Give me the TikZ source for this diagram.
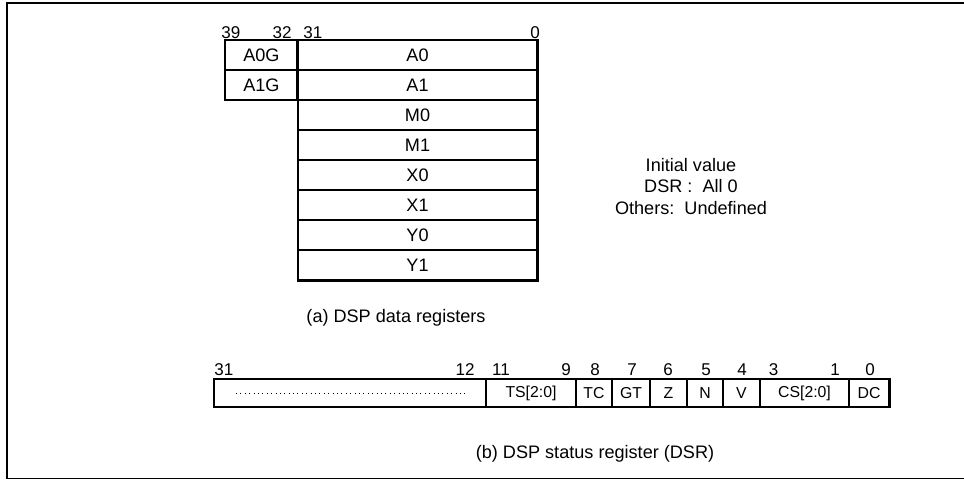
\documentclass[tikz,border=0pt]{standalone}
\usepackage{fontspec}
\setmainfont{Liberation Sans}
\usetikzlibrary{positioning}

\begin{document}
\begin{tikzpicture}[
  datarow/.style={draw, line width=0.6pt, minimum height=0.6cm, inner sep=0pt,
    font=\fontsize{10.3}{12}\selectfont},
  field/.style={draw, line width=0.6pt, minimum height=0.56cm, inner sep=0pt,
    font=\fontsize{9}{10}\selectfont},
  bitno/.style={anchor=base, inner sep=0pt, font=\fontsize{9.7}{11}\selectfont},
  outline/.style={line width=1.1pt},
  caption/.style={anchor=base, inner sep=0pt, font=\fontsize{10.3}{12}\selectfont}]
  \useasboundingbox (0,0) rectangle (19.28,9.6);
  % Frame (open at the right)
  \draw[line width=1.1pt] (19.28,9.54) -- (0.14,9.54) -- (0.14,0.03) -- (19.28,0.03);

  % Data registers
  \foreach \r [count=\i from 0] in {A0,A1,M0,M1,X0,X1,Y0,Y1}
    \node[datarow, minimum width=4.78cm] (\r) at (8.35,{8.5-0.6*\i}) {\r};
  \foreach \g/\r in {A0G/A0,A1G/A1}
    \node[datarow, minimum width=1.42cm, left=0pt of \r] (\g) {\g};
  \draw[outline] (A0.north west) rectangle (Y1.south east);
  \draw[outline] (A0G.north west) rectangle (A1G.south east);
  % Bit numbers
  \node[bitno, anchor=base west] (d39) at (4.42,8.84) {39};
  \node[bitno, anchor=base east] (d32) at (5.84,8.84) {32};
  \node[bitno, anchor=base west] (d31) at (6.06,8.84) {31};
  \node[bitno] (d0) at (10.7,8.84) {0};
  \node[caption] (capa) at (7.92,3.16) {(a) DSP data registers};

  % Initial value
  \node[align=center, inner sep=0pt, font=\fontsize{10.3}{12.5}\selectfont] (init)
    at (13.82,5.87) {Initial value\\DSR :\ \ All 0\\Others:\ \ Undefined};

  % Status register
  \foreach \xa/\xb/\nm/\txt in {4.28/9.72/res/{}, 9.72/11.52/ts/{TS[2:0]},
      11.52/12.24/tc/TC, 12.24/13.0/gt/GT, 13.0/13.74/z/Z, 13.74/14.46/n/N,
      14.46/15.2/v/V, 15.2/16.98/cs/{CS[2:0]}, 16.98/17.78/dc/DC}
    \node[field, minimum width={(\xb-\xa)*1cm}] (\nm) at ({(\xa+\xb)/2},1.74) {\txt};
  \draw[outline] (res.north west) rectangle (dc.south east);
  \draw[dotted, line width=0.5pt] ([xshift=0.45cm]res.west) -- ([xshift=-0.42cm]res.east);
  % Bit numbers
  \node[bitno, anchor=base west] (s31) at (4.28,2.1) {31};
  \node[bitno, anchor=base east] (s12) at (9.5,2.1) {12};
  \foreach \x/\b in {10.02/11, 11.32/9, 11.9/8, 12.64/7, 13.36/6, 14.12/5,
      14.84/4, 15.47/3, 16.7/1, 17.4/0}
    \node[bitno] (s\b) at (\x,2.1) {\b};
  \node[caption] (capb) at (11.9,0.44) {(b) DSP status register (DSR)};
\end{tikzpicture}
\end{document}
